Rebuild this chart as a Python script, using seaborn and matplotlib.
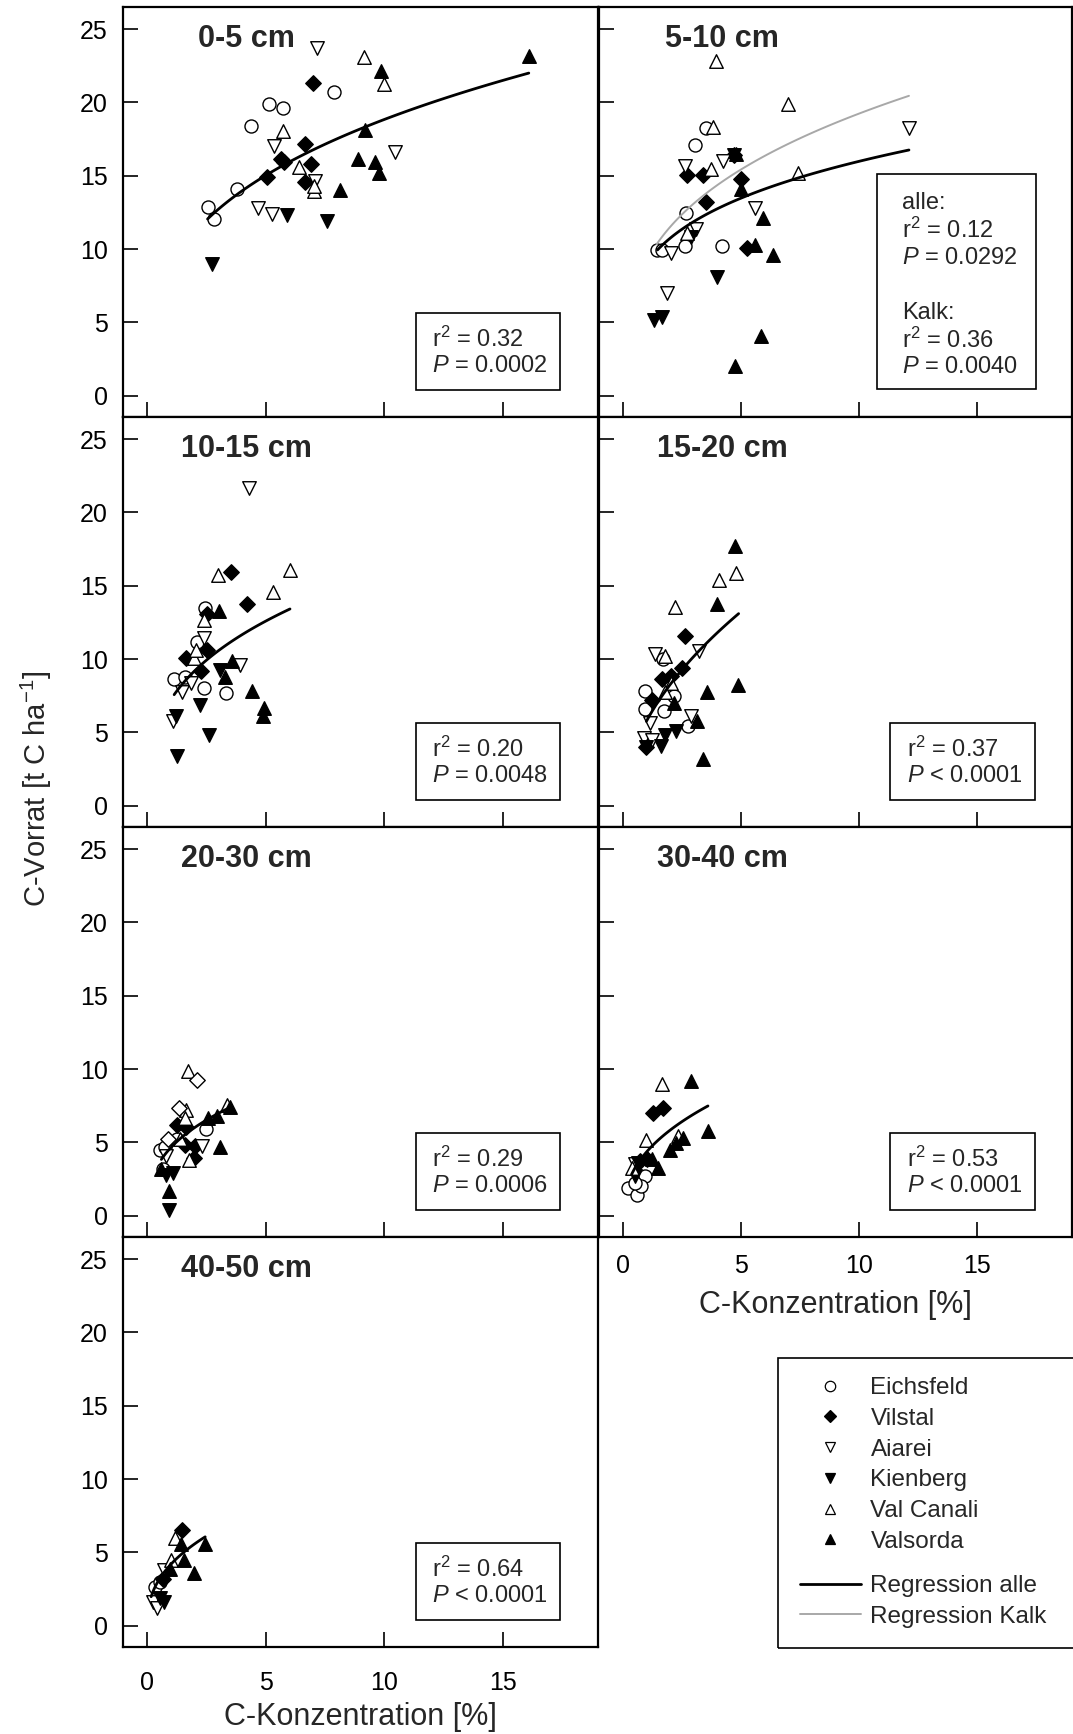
import numpy as np
import pandas as pd
import seaborn as sns
import matplotlib.pyplot as plt
from matplotlib.lines import Line2D
from matplotlib.patches import Rectangle

# --- Standorte -------------------------------------------------------------
sites = ["Eichsfeld", "Vilstal", "Aiarei", "Kienberg", "Val Canali", "Valsorda"]
all_sites = sites + ["Vilstal offen"]  # open diamonds appear in the 20-30 cm panel
site_markers = {"Eichsfeld": "o", "Vilstal": "D", "Aiarei": "v", "Kienberg": "v",
                "Val Canali": "^", "Valsorda": "^", "Vilstal offen": "D"}
site_faces = {"Eichsfeld": "white", "Vilstal": "black", "Aiarei": "white", "Kienberg": "black",
              "Val Canali": "white", "Valsorda": "black", "Vilstal offen": "white"}
site_sizes = {"o": 88, "D": 62, "v": 95, "^": 95}

depths = ["0-5 cm", "5-10 cm", "10-15 cm", "15-20 cm", "20-30 cm", "30-40 cm", "40-50 cm"]

# --- Daten: C-Konzentration [%] / C-Vorrat [t C/ha], Punkte je Standort in Reihenfolge von all_sites
conc_0_5 = [2.54, 2.83, 3.78, 4.39, 5.12, 5.72, 7.87,
            5.04, 5.65, 6.66, 7.01, 6.90, 6.66, 5.75,
            7.16, 5.36, 4.67, 5.25, 10.45, 7.06,
            2.73, 5.90, 7.59,
            9.13, 10.0, 5.72, 6.41, 7.03, 7.03,
            16.1, 9.85, 9.19, 8.87, 9.61, 9.76, 8.11]
stock_0_5 = [12.84, 12.05, 14.09, 18.36, 19.86, 19.59, 20.73,
             14.89, 16.14, 17.16, 21.32, 15.80, 14.59, 15.90,
             23.68, 17.05, 12.77, 12.39, 16.59, 14.66,
             8.98, 12.32, 11.93,
             23.11, 21.25, 18.07, 15.57, 13.98, 14.30,
             23.18, 22.16, 18.11, 16.14, 15.90, 15.18, 14.05]
n_0_5 = [7, 7, 6, 3, 6, 7, 0]

conc_5_10 = [1.41, 1.66, 2.65, 3.03, 3.49, 2.62, 4.17,
             2.72, 3.38, 3.49, 4.97, 4.69, 5.25,
             2.62, 4.23, 5.58, 3.08, 2.01, 1.85, 12.11,
             1.31, 1.63, 3.99, 2.86, 4.69,
             3.94, 6.97, 7.41, 3.73, 3.82, 2.72,
             5.01, 5.92, 6.34, 5.58, 5.82, 4.73, 4.79]
stock_5_10 = [9.93, 9.93, 12.48, 17.08, 18.22, 10.20, 10.20,
              15.06, 15.06, 13.20, 14.76, 16.40, 10.09,
              15.63, 16.01, 12.82, 11.34, 9.75, 6.97, 18.22,
              5.15, 5.38, 8.11, 10.84, 16.40,
              22.85, 19.89, 15.17, 15.44, 18.29, 11.12,
              14.08, 12.14, 9.57, 10.25, 4.10, 2.00, 16.47]
n_5_10 = [7, 6, 7, 5, 6, 7, 0]

conc_10_15 = [1.13, 1.58, 2.42, 2.08, 2.39, 3.32,
              3.52, 4.19, 1.65, 2.25, 2.50, 2.50,
              4.29, 1.10, 1.45, 1.83, 2.39, 3.91,
              1.27, 2.60, 2.21, 3.07, 1.20,
              2.98, 6.00, 5.30, 2.39, 1.97, 2.05,
              3.02, 3.28, 4.40, 4.92, 4.88, 3.56]
stock_10_15 = [8.64, 8.77, 13.45, 11.16, 8.02, 7.68,
               15.93, 13.75, 10.07, 9.16, 10.59, 13.09,
               21.66, 5.75, 7.73, 8.36, 11.43, 9.61,
               3.36, 4.84, 6.89, 9.27, 6.10,
               15.70, 16.09, 14.55, 12.64, 10.07, 10.60,
               13.25, 8.77, 7.80, 6.66, 6.09, 9.84]
n_10_15 = [6, 6, 6, 5, 6, 6, 0]

conc_15_20 = [0.94, 0.94, 1.69, 2.15, 1.72, 2.74,
              2.60, 2.49, 1.66, 2.04, 1.22, 0.98,
              1.34, 3.19, 2.88, 1.13, 0.89, 1.20,
              0.98, 1.62, 1.76, 2.22,
              2.21, 4.05, 4.78, 1.79, 2.01, 1.76,
              4.75, 3.97, 4.88, 3.54, 3.38, 3.12, 2.15]
stock_15_20 = [7.80, 6.59, 10.00, 7.45, 6.48, 5.45,
               11.55, 9.39, 8.64, 8.82, 7.18, 4.00,
               10.36, 10.52, 6.14, 5.64, 4.61, 4.45,
               4.00, 4.05, 4.84, 5.07,
               13.55, 15.36, 15.86, 10.23, 8.36, 7.73,
               17.73, 13.75, 8.20, 7.73, 3.18, 5.75, 7.00]
n_15_20 = [6, 6, 6, 4, 6, 7, 0]

conc_20_30 = [0.52, 0.73, 2.49, 0.66, 1.25,
              1.25, 1.65, 1.96, 1.58, 2.00,
              2.32, 0.80,
              0.91, 1.08, 0.80,
              1.72, 1.65, 1.58, 3.36, 1.76, 1.39,
              0.91, 3.08, 2.56, 2.95, 3.50, 0.59,
              2.10, 1.34, 0.87]
stock_20_30 = [4.45, 4.68, 5.89, 3.20, 5.25,
               6.21, 6.05, 3.93, 4.84, 4.75,
               4.75, 4.10,
               0.41, 2.92, 2.79,
               9.90, 7.20, 6.64, 7.55, 3.77, 5.25,
               1.71, 4.68, 6.66, 6.82, 7.40, 3.20,
               9.25, 7.31, 5.21]
n_20_30 = [5, 5, 2, 3, 6, 6, 3]

conc_30_40 = [0.21, 0.59, 0.92, 0.77, 0.49,
              1.24, 1.69, 0.70, 0.99,
              0.49,
              0.49, 0.63,
              1.65, 0.96, 2.32, 0.35,
              2.86, 3.59, 2.54, 2.23, 1.97, 1.48, 1.20]
stock_30_40 = [1.90, 1.44, 2.69, 2.00, 2.24,
               7.03, 7.31, 3.72, 3.88,
               3.50,
               2.69, 3.60,
               9.00, 5.14, 5.43, 3.26,
               9.20, 5.78, 5.32, 4.97, 4.47, 3.26, 3.84]
n_30_40 = [5, 4, 1, 2, 4, 7, 0]

conc_40_50 = [0.32, 0.53,
              1.45, 0.64,
              0.24, 0.40, 0.69,
              0.69, 0.53,
              1.17, 1.00,
              2.44, 1.40, 1.53, 1.98, 0.96]
stock_40_50 = [2.66, 3.00,
               6.52, 3.20,
               1.64, 1.23, 3.80,
               1.64, 1.86,
               6.00, 4.48,
               5.55, 5.55, 4.48, 3.57, 3.90]
n_40_50 = [2, 2, 3, 2, 2, 5, 0]

fit_a = [8.89, 9.07, 7.26, 5.81, 4.66, 4.37, 4.20]
fit_b = [0.326, 0.246, 0.342, 0.512, 0.368, 0.421, 0.411]
fit_x0 = [2.54, 1.45, 1.13, 0.98, 0.59, 0.35, 0.16]
fit_x1 = [16.1, 12.11, 6.02, 4.89, 3.40, 3.59, 2.44]
# Regression nur Kalkstandorte (5-10 cm)
kalk_a, kalk_b, kalk_x0, kalk_x1 = 9.25, 0.318, 1.41, 12.11

r2_vals = ["0.32", "0.12", "0.20", "0.37", "0.29", "0.53", "0.64"]
p_vals = ["= 0.0002", "= 0.0292", "= 0.0048", "< 0.0001", "= 0.0006", "< 0.0001", "< 0.0001"]
kalk_r2, kalk_p = "0.36", "= 0.0040"

panel_conc = [conc_0_5, conc_5_10, conc_10_15, conc_15_20, conc_20_30, conc_30_40, conc_40_50]
panel_stock = [stock_0_5, stock_5_10, stock_10_15, stock_15_20, stock_20_30, stock_30_40, stock_40_50]
panel_n = [n_0_5, n_5_10, n_10_15, n_15_20, n_20_30, n_30_40, n_40_50]

# --- Stil -------------------------------------------------------------------
sns.set_theme(style="ticks")
plt.rcParams["font.family"] = ["Liberation Sans", "DejaVu Sans"]
plt.rcParams["mathtext.fontset"] = "custom"
plt.rcParams["mathtext.rm"] = "Liberation Sans"
plt.rcParams["mathtext.it"] = "Liberation Sans:italic"
plt.rcParams["axes.edgecolor"] = "black"

W, H = 1073, 1734
fig = plt.figure(figsize=(W / 100, H / 100), dpi=100)
fig.patch.set_facecolor("white")


def add_ax(left, top, width, height):
    return fig.add_axes([left / W, 1 - (top + height) / H, width / W, height / H])


col_left = [122.5, 598.5]
col_width = [475, 473]
row_top = [7, 417, 827, 1237]
row_h = 410

for i, depth in enumerate(depths):
    row, col = divmod(i, 2)
    ax = add_ax(col_left[col], row_top[row], col_width[col], row_h)

    site_col = []
    for s, n in zip(all_sites, panel_n[i]):
        site_col += [s] * n
    df = pd.DataFrame({"conc": panel_conc[i], "stock": panel_stock[i], "site": site_col})

    for s in all_sites:
        sub = df[df["site"] == s]
        if sub.empty:
            continue
        m = site_markers[s]
        sns.scatterplot(data=sub, x="conc", y="stock", marker=m, color=site_faces[s],
                        edgecolor="black", linewidth=1.0, s=site_sizes[m], ax=ax,
                        legend=False, zorder=3)

    xs = np.linspace(fit_x0[i], fit_x1[i], 120)
    ax.plot(xs, fit_a[i] * xs ** fit_b[i], color="black", lw=2.0, zorder=4)
    if depth == "5-10 cm":
        xk = np.linspace(kalk_x0, kalk_x1, 120)
        ax.plot(xk, kalk_a * xk ** kalk_b, color="#a8a8a8", lw=1.4, zorder=4)

    ax.set_xlim(-1.05, 19)
    ax.set_ylim(-1.45, 26.5)
    ax.set_xticks([0, 5, 10, 15])
    ax.set_yticks([0, 5, 10, 15, 20, 25])
    ax.tick_params(direction="in", length=10.5, width=1.2, labelsize=18, pad=10.5,
                   colors="black", top=False, right=False)
    for sp in ax.spines.values():
        sp.set_linewidth(1.6)
        sp.set_color("black")
    ax.set_xlabel("")
    ax.set_ylabel("")
    if col == 1:
        ax.tick_params(labelleft=False)
    if depth == "30-40 cm":
        ax.tick_params(axis="x", pad=12)
        ax.set_xlabel("C-Konzentration [%]", fontsize=22, labelpad=9)
    elif depth == "40-50 cm":
        ax.tick_params(axis="x", pad=17)
        ax.set_xlabel("C-Konzentration [%]", fontsize=22, labelpad=5)
    else:
        ax.tick_params(labelbottom=False)

    ax.text(0.261, 0.921, depth, transform=ax.transAxes, fontsize=22, fontweight="bold",
            ha="center", va="center")

    # Statistik-Kasten
    if depth == "5-10 cm":
        ax.add_patch(Rectangle((0.589, 0.068), 0.337, 0.525, transform=ax.transAxes,
                               fill=False, ec="black", lw=1.2, zorder=5))
        lines = ["alle:", "r$^2$ = " + r2_vals[i], "$P$ " + p_vals[i], None,
                 "Kalk:", "r$^2$ = " + kalk_r2, "$P$ " + kalk_p]
        ys = [0.521, 0.455, 0.389, None, 0.253, 0.187, 0.121]
        for txt, yy in zip(lines, ys):
            if txt is None:
                continue
            ax.text(0.642, yy, txt, transform=ax.transAxes, fontsize=17, ha="left", va="center")
    else:
        ax.add_patch(Rectangle((0.617, 0.066), 0.305, 0.187, transform=ax.transAxes,
                               fill=False, ec="black", lw=1.2, zorder=5))
        ax.text(0.652, 0.19, "r$^2$ = " + r2_vals[i], transform=ax.transAxes, fontsize=17,
                ha="left", va="center")
        ax.text(0.652, 0.125, "$P$ " + p_vals[i], transform=ax.transAxes, fontsize=17,
                ha="left", va="center")

fig.text(36.7 / W, 1 - 789 / H, "C-Vorrat [t C ha$^{-1}$]", rotation=90, fontsize=21,
         ha="center", va="center")

# --- Legende ---------------------------------------------------------------
marker_handles = []
for s in sites:
    m = site_markers[s]
    marker_handles.append(Line2D([], [], ls="none", marker=m, markerfacecolor=site_faces[s],
                                 markeredgecolor="black", markeredgewidth=0.9,
                                 markersize=6.5 if m == "D" else 7.5))
fig.legend(marker_handles, sites, loc="upper left", bbox_to_anchor=(800 / W, 1 - 1377 / H),
           frameon=False, fontsize=17.5, handlelength=2.5, handletextpad=0.4,
           labelspacing=0.36, borderpad=0, borderaxespad=0)

line_handles = [Line2D([], [], color="black", lw=2.0), Line2D([], [], color="#a8a8a8", lw=1.4)]
fig.legend(line_handles, ["Regression alle", "Regression Kalk"], loc="upper left",
           bbox_to_anchor=(800 / W, 1 - 1575 / H), frameon=False, fontsize=17.5,
           handlelength=2.5, handletextpad=0.4, labelspacing=0.36, borderpad=0,
           borderaxespad=0)

fig.add_artist(Rectangle((777.7 / W, 1 - 1648 / H), 320 / W, 290 / H,
                         transform=fig.transFigure, fill=False, ec="black", lw=1.2))

fig.savefig("out.png", dpi=100, facecolor="white")
